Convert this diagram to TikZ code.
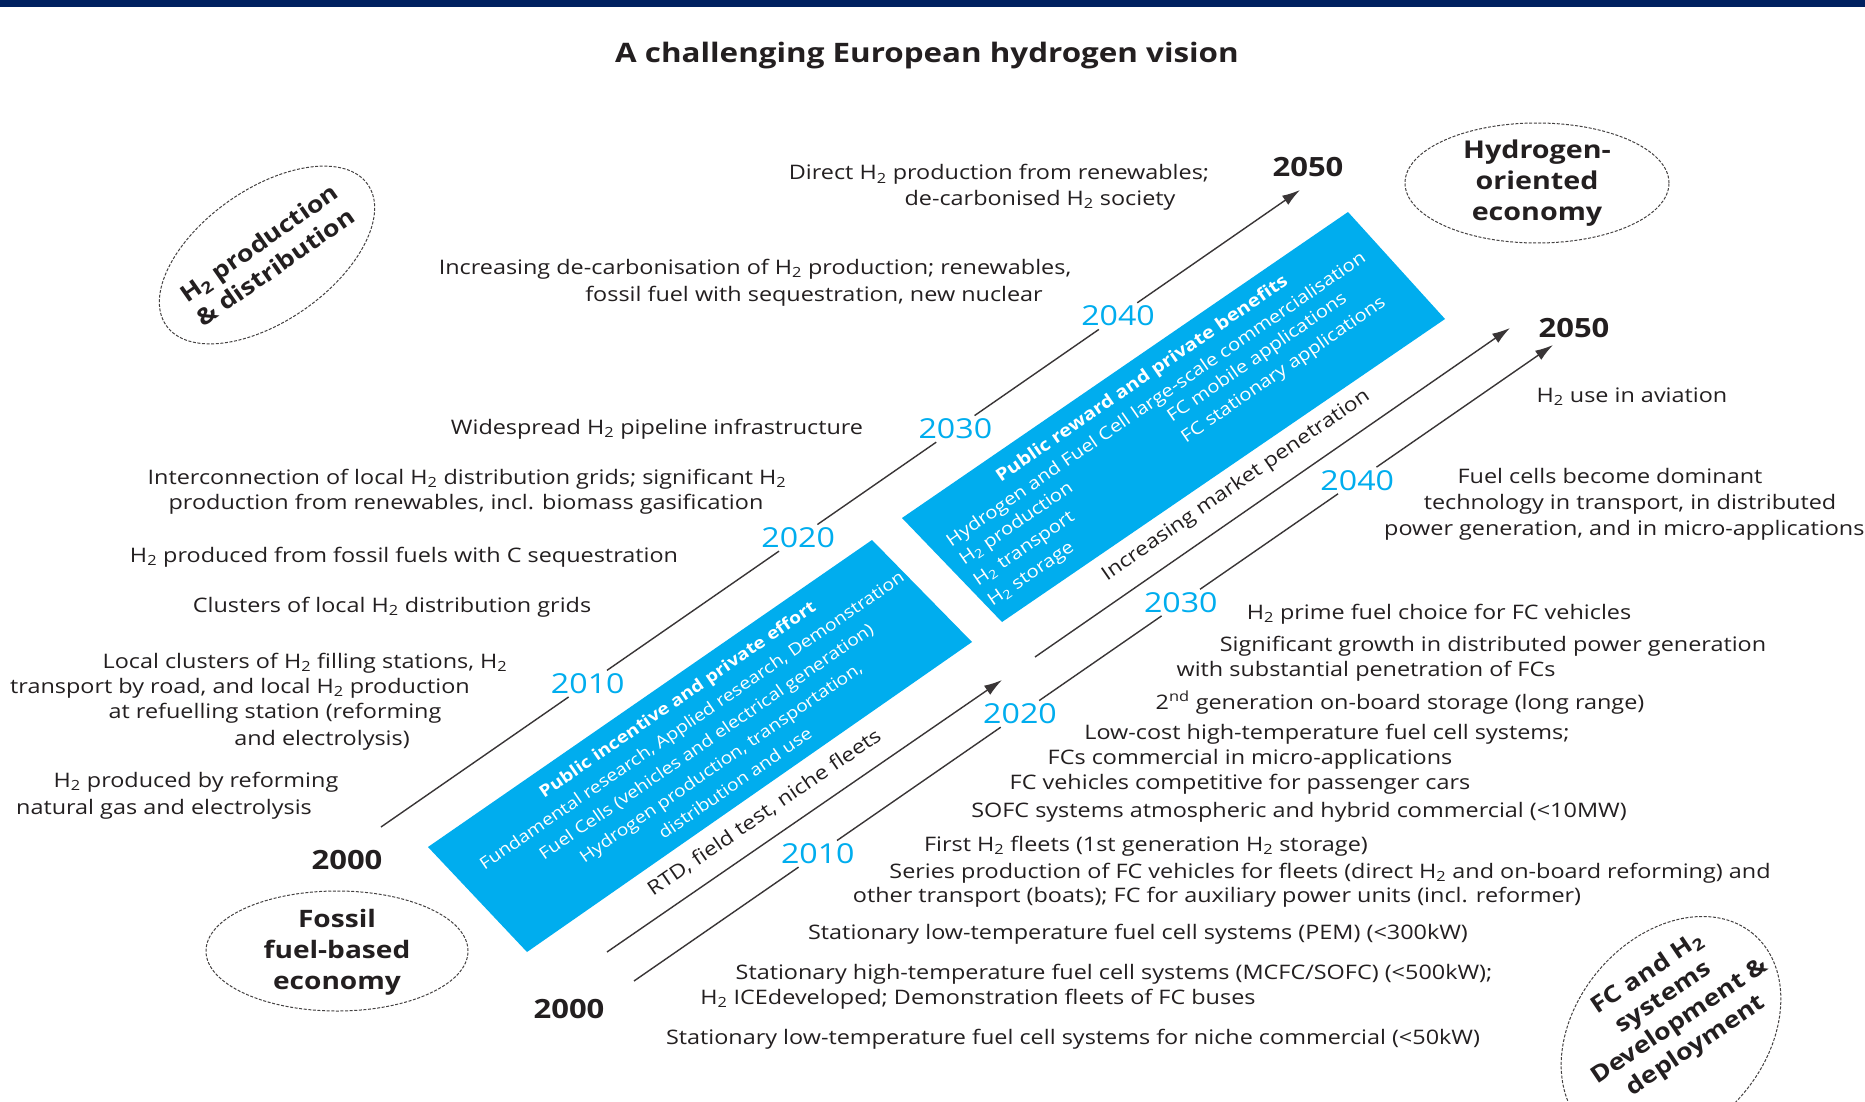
\documentclass[tikz,border=0pt]{standalone}
\usepackage{fontspec}
\setmainfont{Open Sans}[FakeStretch=1.17]
\usetikzlibrary{arrows.meta,shapes.geometric}
\definecolor{ink}{RGB}{35,31,32}
\definecolor{cyanH}{RGB}{0,173,238}
\definecolor{navy}{RGB}{0,33,96}
\newlength\halfw
\newcommand\Htwo{H\textsubscript{2}}
\begin{document}
\settowidth{\halfw}{\fontsize{17.4}{25}\selectfont Hydrogen and Fuel Cell large-scale commercialisation}%
\setlength{\halfw}{0.5\halfw}%
\begin{tikzpicture}[x=1pt,y=-1pt,
  txt/.style={font=\fontsize{20}{25}\selectfont, text=ink, inner sep=0pt, text height=14pt, text depth=4pt, yshift=-3pt},
  yr/.style={font=\fontsize{27.5}{30}\selectfont, text=cyanH, inner sep=3pt},
  yrb/.style={font=\fontsize{26.5}{30}\selectfont\bfseries, text=ink, inner sep=2pt},
  oval/.style={ellipse, draw=ink!85, dash pattern=on 3pt off 1.6pt, line width=1pt, inner sep=0pt},
  ovaltxt/.style={text=ink, align=center, inner sep=0pt},
  tline/.style={draw=ink!90, line width=1.4pt},
  arrowend/.style={-{Latex[length=18pt,width=11pt]}},
  boxtxt/.style={text=white, align=center, inner sep=0pt},
  slopetxt/.style={font=\fontsize{19.5}{25}\selectfont, text=ink, inner sep=0pt, sloped}
]
\useasboundingbox (0,0) rectangle (1865,1102);
\fill[white] (0,0) rectangle (1865,1102);
\fill[navy] (0,0) rectangle (1865,7);

\node[font=\fontsize{26.8}{30}\selectfont\bfseries, text=ink] (title) at (927,56) {A challenging European hydrogen vision};

% blue boxes
\fill[cyanH] (428,847) -- (872,540) -- (972,642) -- (527,952) -- cycle;
\fill[cyanH] (902,518) -- (1348,212) -- (1445,319) -- (1002,622) -- cycle;

\node[boxtxt, font=\fontsize{16.6}{25.5}\selectfont, rotate=34.6] (box1txt) at (706,741) {{\bfseries Public incentive and private effort}\\
Fundamental research, Applied research, Demonstration\\
Fuel Cells (vehicles and electrical generation)\\
Hydrogen production, transportation,\\
distribution and use};

\node[boxtxt, font=\fontsize{17.4}{25}\selectfont, rotate=34.6] (box2txt) at (1171,421) {{\bfseries Public reward and private benefits}\\
Hydrogen and Fuel Cell large-scale commercialisation\\
\begin{tabular}{@{}p{\halfw}@{}p{\halfw}@{}}
\Htwo{} production & FC mobile applications\\
\Htwo{} transport & FC stationary applications\\
\Htwo{} storage & \\
\end{tabular}};

% ellipses
\node[oval, minimum width=246pt, minimum height=132pt, rotate=35] (e1) at (267,255) {};
\node[ovaltxt, font=\fontsize{23}{29}\selectfont\bfseries, rotate=35] (e1t) at (267,255) {\Htwo{} production\\ \& distribution};
\node[oval, minimum width=264pt, minimum height=120pt] (e2) at (1537,183) {};
\node[ovaltxt, font=\fontsize{24.5}{31}\selectfont\bfseries] (e2t) at (1537,183) {Hydrogen-\\ oriented\\ economy};
\node[oval, minimum width=262pt, minimum height=120pt] (e3) at (337,951) {};
\node[ovaltxt, font=\fontsize{24}{31}\selectfont\bfseries] (e3t) at (337,952) {Fossil\\ fuel-based\\ economy};
\node[oval, minimum width=256pt, minimum height=190pt, rotate=50] (e4) at (1671,1032) {};
\node[ovaltxt, font=\fontsize{23}{29}\selectfont\bfseries, rotate=34] (e4t) at (1672,1010) {FC and \Htwo\\ systems\\ Development \&\\ deployment};

% timeline coordinates
\coordinate (a0) at (381,827); \coordinate (a5) at (1300,190);
\coordinate (b0) at (607,952); \coordinate (b1) at (1002,680);
\coordinate (b2) at (1035,657); \coordinate (b3) at (1510,328);
\coordinate (c0) at (634,981); \coordinate (c5) at (1553,345);

% year labels
\path (a0) -- (a5)
  node[yr,pos=0.225] (ya1) {2010}
  node[yr,pos=0.454] (ya2) {2020}
  node[yr,pos=0.625] (ya3) {2030}
  node[yr,pos=0.802] (ya4) {2040};
\path (c0) -- (c5)
  node[yr,pos=0.200] (yc1) {2010}
  node[yr,pos=0.420] (yc2) {2020}
  node[yr,pos=0.595] (yc3) {2030}
  node[yr,pos=0.787] (yc4) {2040};
\node[yrb] (a2000) at (347,860) {2000};
\node[yrb] (c2000) at (569,1009) {2000};
\node[yrb] (a2050) at (1308,167) {2050};
\node[yrb] (c2050) at (1574,328) {2050};

% line A
\draw[tline] (a0) -- (ya1);
\draw[tline] (ya1) -- (ya2);
\draw[tline] (ya2) -- (ya3);
\draw[tline] (ya3) -- (ya4);
\draw[tline, arrowend] (ya4) -- (a5);
% line B
\draw[tline, arrowend] (b0) -- node[slopetxt, above=16pt, pos=0.435] (rtd) {RTD, field test, niche fleets} (b1);
\draw[tline, arrowend] (b2) -- node[slopetxt, above=16pt, pos=0.455] (imp) {Increasing market penetration} (b3);
% line C
\draw[tline] (c0) -- (yc1);
\draw[tline] (yc1) -- (yc2);
\draw[tline] (yc2) -- (yc3);
\draw[tline] (yc3) -- (yc4);
\draw[tline, arrowend] (yc4) -- (c5);

% texts left / top
\node[txt] (t1) at (999,172) {Direct \Htwo{} production from renewables;};
\node[txt] (t2) at (1040,197) {de-carbonised \Htwo{} society};
\node[txt] (t3) at (755,266) {Increasing de-carbonisation of \Htwo{} production; renewables,};
\node[txt] (t4) at (814,293) {fossil fuel with sequestration, new nuclear};
\node[txt] (t5) at (657,426) {Widespread \Htwo{} pipeline infrastructure};
\node[txt] (t6) at (467,476) {Interconnection of local \Htwo{} distribution grids; significant \Htwo};
\node[txt] (t7) at (466,501) {production from renewables, incl. biomass gasification};
\node[txt] (t8) at (404,554) {\Htwo{} produced from fossil fuels with C sequestration};
\node[txt] (t9) at (392,604) {Clusters of local \Htwo{} distribution grids};
\node[txt] (t10) at (305,660) {Local clusters of \Htwo{} filling stations, \Htwo};
\node[txt] (t11) at (240,685) {transport by road, and local \Htwo{} production};
\node[txt] (t12) at (275,710) {at refuelling station (reforming};
\node[txt] (t13) at (322,737) {and electrolysis)};
\node[txt] (t14) at (196,779) {\Htwo{} produced by reforming};
\node[txt] (t15) at (164,806) {natural gas and electrolysis};
% texts right / bottom
\node[txt] (t16) at (1632,394) {\Htwo{} use in aviation};
\node[txt] (t17) at (1610,475) {Fuel cells become dominant};
\node[txt] (t18) at (1630,501) {technology in transport, in distributed};
\node[txt, anchor=west] (t19) at (1384,527) {power generation, and in micro-applications};
\node[txt] (t20) at (1439,611) {\Htwo{} prime fuel choice for FC vehicles};
\node[txt] (t21) at (1493,643) {Significant growth in distributed power generation};
\node[txt] (t22) at (1366,668) {with substantial penetration of FCs};
\node[txt] (t23) at (1400,701) {2\textsuperscript{nd} generation on-board storage (long range)};
\node[txt] (t24) at (1327,731) {Low-cost high-temperature fuel cell systems;};
\node[txt] (t25) at (1250,756) {FCs commercial in micro-applications};
\node[txt] (t26) at (1240,781) {FC vehicles competitive for passenger cars};
\node[txt] (t27) at (1299,809) {SOFC systems atmospheric and hybrid commercial (<10MW)};
\node[txt] (t28) at (1146,843) {First \Htwo{} fleets (1st generation \Htwo{} storage)};
\node[txt] (t29) at (1330,870) {Series production of FC vehicles for fleets (direct \Htwo{} and on-board reforming) and};
\node[txt] (t30) at (1217,894) {other transport (boats); FC for auxiliary power units (incl. reformer)};
\node[txt] (t31) at (1138,931) {Stationary low-temperature fuel cell systems (PEM) (<300kW)};
\node[txt] (t32) at (1114,971) {Stationary high-temperature fuel cell systems (MCFC/SOFC) (<500kW);};
\node[txt] (t33) at (978,996) {\Htwo{} ICEdeveloped; Demonstration fleets of FC buses};
\node[txt] (t34) at (1073,1036) {Stationary low-temperature fuel cell systems for niche commercial (<50kW)};
\end{tikzpicture}
\end{document}
